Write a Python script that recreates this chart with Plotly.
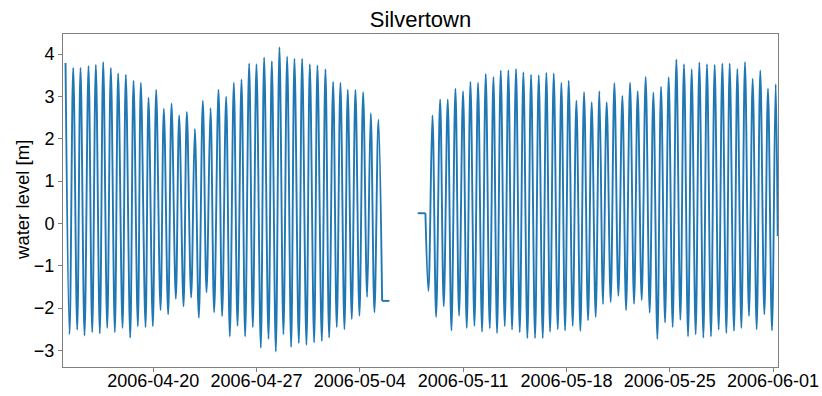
import pandas as pd
import plotly.graph_objects as go

# ---- data ----
base_time = "2006-04-14 00:00"   # hours below are counted from this moment

# first part (before the data gap)
hw_a_hours = [1.4, 13.9, 25.8, 38.8, 50.7, 62.7, 75.1, 87.0, 99.5, 112.0,
              123.9, 136.4, 148.8, 161.3, 173.8, 186.2, 198.7, 211.7, 224.7, 237.2,
              250.2, 262.6, 275.1, 287.6, 300.0, 311.9, 324.4, 336.9, 349.3, 361.8,
              373.7, 386.2, 398.7, 411.1, 424.1, 436.6, 448.5, 460.4, 472.9, 485.4,
              497.8, 510.3]
hw_a_level = [3.79, 3.68, 3.68, 3.72, 3.75, 3.81, 3.67, 3.54, 3.51, 3.37,
              3.32, 2.97, 3.15, 2.71, 2.83, 2.55, 2.63, 2.23, 2.90, 2.72,
              3.16, 2.99, 3.32, 3.40, 3.78, 3.76, 3.92, 3.83, 4.16, 3.94,
              3.89, 3.89, 3.76, 3.73, 3.64, 3.34, 3.32, 3.16, 3.15, 3.10,
              2.60, 2.45]
lw_a_hours = [7.9, 20.4, 32.3, 44.8, 57.2, 69.2, 81.6, 94.1, 106.6, 119.0,
              131.5, 143.4, 155.9, 168.3, 180.8, 193.3, 205.7, 218.2, 230.7, 243.1,
              256.1, 268.6, 281.1, 293.5, 306.0, 319.0, 331.5, 343.4, 355.8, 368.3,
              380.8, 393.2, 405.7, 418.2, 430.1, 442.5, 455.0, 466.9, 479.4, 491.9,
              503.8]
lw_a_level = [-2.62, -2.51, -2.65, -2.57, -2.60, -2.47, -2.57, -2.47, -2.70, -2.43,
              -2.45, -2.43, -2.05, -2.15, -1.78, -1.96, -1.75, -2.23, -1.63, -2.10,
              -2.19, -2.67, -2.42, -2.67, -2.45, -2.94, -2.73, -3.03, -2.62, -2.92,
              -2.83, -2.87, -2.81, -2.78, -2.70, -2.45, -2.50, -2.26, -2.18, -1.74,
              -2.10]
flat_a_hours = [516.3, 528.2]
flat_a_level = [-1.83, -1.83]

# second part (after the data gap)
flat_b_hours = [574.2, 586.7]
flat_b_level = [0.24, 0.24]
hw_b_hours = [598.1, 610.6, 623.0, 635.5, 647.9, 659.9, 672.3, 684.8, 697.3, 709.2,
              721.6, 734.1, 746.0, 758.5, 771.0, 783.4, 795.4, 807.8, 819.7, 832.2,
              844.7, 857.1, 869.6, 881.5, 894.0, 907.0, 919.5, 931.9, 944.9, 957.4,
              969.9, 982.3, 994.8, 1007.2, 1019.7, 1032.2, 1044.6, 1057.1, 1069.6, 1081.5,
              1094.0, 1106.4, 1118.9, 1131.3, 1143.8, 1156.3]
hw_b_level = [2.55, 2.93, 2.93, 3.18, 3.12, 3.34, 3.32, 3.53, 3.46, 3.61,
              3.62, 3.65, 3.57, 3.51, 3.50, 3.56, 3.54, 3.32, 3.37, 2.90,
              3.10, 2.86, 3.12, 2.86, 3.31, 3.01, 3.32, 3.12, 3.46, 3.09,
              3.23, 3.45, 3.87, 3.76, 3.64, 3.80, 3.76, 3.75, 3.78, 3.78,
              3.65, 3.81, 3.42, 3.61, 3.18, 3.29]
lw_b_hours = [591.6, 604.1, 616.5, 629.0, 641.4, 653.9, 666.4, 678.8, 691.3, 703.2,
              715.7, 727.6, 740.1, 752.5, 765.0, 777.5, 789.4, 801.9, 813.8, 826.2,
              838.7, 851.2, 863.6, 875.6, 888.0, 900.5, 913.0, 926.0, 938.4, 951.4,
              963.9, 976.4, 988.8, 1001.3, 1013.8, 1026.2, 1038.7, 1051.1, 1063.6, 1076.1,
              1088.5, 1100.5, 1112.9, 1125.4, 1137.9, 1150.3]
lw_b_level = [-1.60, -2.21, -1.96, -2.53, -2.18, -2.47, -2.42, -2.56, -2.48, -2.59,
              -2.43, -2.51, -2.57, -2.71, -2.71, -2.71, -2.56, -2.50, -2.53, -2.42,
              -2.54, -2.29, -2.21, -1.91, -1.86, -1.71, -2.05, -1.90, -1.81, -2.11,
              -2.73, -2.34, -2.45, -2.28, -2.67, -2.62, -2.70, -2.67, -2.51, -2.59,
              -2.54, -2.47, -2.19, -2.50, -2.15, -2.53]
end_hours = [1159.6]
end_level = [-0.3]

x_range_hours = [-2.7, 1160.1]
y_range = [-3.392, 4.473]
y_ticks = [-3, -2, -1, 0, 1, 2, 3, 4]
x_tick_dates = ["2006-04-20", "2006-04-27", "2006-05-04", "2006-05-11",
                "2006-05-18", "2006-05-25", "2006-06-01"]

title_text = "Silvertown"
y_title = "water level [m]"

# ---- build series ----
t0 = pd.Timestamp(base_time)


def to_time(hours):
    return [t0 + pd.Timedelta(hours=h) for h in hours]


def merge(h1, v1, h2, v2):
    pts = sorted(zip(h1 + h2, v1 + v2))
    return [p[0] for p in pts], [p[1] for p in pts]


seg_a_h, seg_a_v = merge(hw_a_hours, hw_a_level, lw_a_hours, lw_a_level)
seg_a_h = seg_a_h + flat_a_hours[:1]
seg_a_v = seg_a_v + flat_a_level[:1]

seg_b_h, seg_b_v = merge(hw_b_hours, hw_b_level, lw_b_hours, lw_b_level)
seg_b_h = flat_b_hours[-1:] + seg_b_h + end_hours
seg_b_v = flat_b_level[-1:] + seg_b_v + end_level

color = "#1f77b4"
lw = 1.9
fig = go.Figure()
fig.add_trace(go.Scatter(x=to_time(seg_a_h), y=seg_a_v, mode="lines",
                         line=dict(color=color, width=lw, shape="spline", smoothing=1),
                         showlegend=False, hoverinfo="skip"))
fig.add_trace(go.Scatter(x=to_time(flat_a_hours), y=flat_a_level, mode="lines",
                         line=dict(color=color, width=lw), showlegend=False, hoverinfo="skip"))
fig.add_trace(go.Scatter(x=to_time(flat_b_hours), y=flat_b_level, mode="lines",
                         line=dict(color=color, width=lw), showlegend=False, hoverinfo="skip"))
fig.add_trace(go.Scatter(x=to_time(seg_b_h), y=seg_b_v, mode="lines",
                         line=dict(color=color, width=lw, shape="spline", smoothing=1),
                         showlegend=False, hoverinfo="skip"))

font_family = "Liberation Sans, Arial, sans-serif"
axis_color = "#808080"

fig.update_layout(
    width=822, height=396, autosize=False,
    margin=dict(l=63, r=44, t=34, b=29, pad=0),
    paper_bgcolor="white", plot_bgcolor="white",
    font=dict(family=font_family, color="black"),
    title=dict(text=title_text, x=0.5, xref="paper", xanchor="center",
               y=1 - 19 / 396, yref="container", yanchor="middle",
               font=dict(size=22, family=font_family, color="black")),
)
fig.update_xaxes(
    type="date",
    range=to_time(x_range_hours),
    tickvals=[pd.Timestamp(d) for d in x_tick_dates],
    ticktext=x_tick_dates,
    ticks="outside", ticklen=4, tickwidth=1, tickcolor=axis_color,
    ticklabelstandoff=-7,
    showline=True, linecolor=axis_color, linewidth=1, mirror=True,
    showgrid=False, zeroline=False, automargin=False,
    tickfont=dict(size=18, family=font_family, color="black"),
)
fig.update_yaxes(
    range=y_range,
    tickvals=y_ticks,
    ticks="outside", ticklen=4, tickwidth=1, tickcolor=axis_color,
    showline=True, linecolor=axis_color, linewidth=1, mirror=True,
    showgrid=False, zeroline=False, automargin=False,
    tickfont=dict(size=18, family=font_family, color="black"),
)
fig.add_annotation(text=y_title, textangle=-90, showarrow=False,
                   xref="paper", yref="paper", x=(22 - 63) / 714.7, y=(367 - 200) / 333,
                   xanchor="center", yanchor="middle",
                   font=dict(size=18.5, family=font_family, color="black"))

fig.write_html("out.html")
